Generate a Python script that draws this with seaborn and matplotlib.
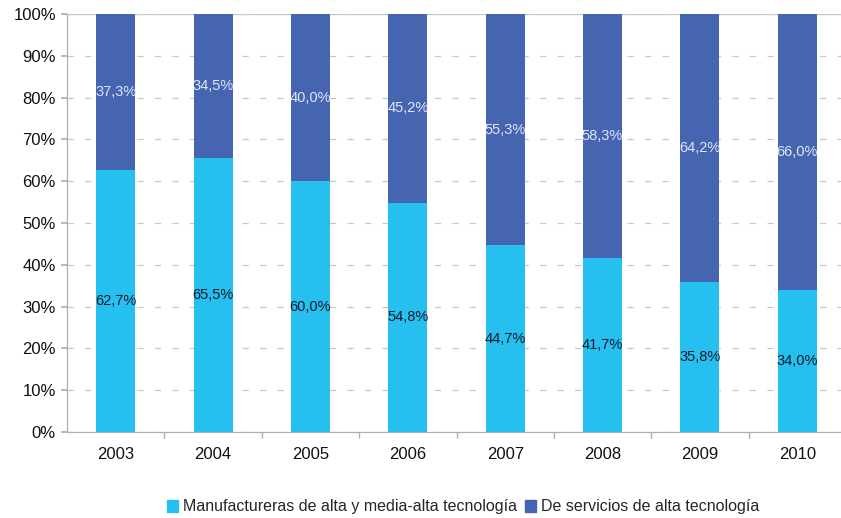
import matplotlib
matplotlib.use("Agg")
import matplotlib.pyplot as plt
import seaborn as sns
import pandas as pd

years = ["2003", "2004", "2005", "2006", "2007", "2008", "2009", "2010"]
manufactureras = [62.7, 65.5, 60.0, 54.8, 44.7, 41.7, 35.8, 34.0]
servicios = [37.3, 34.5, 40.0, 45.2, 55.3, 58.3, 64.2, 66.0]
yticks = [0, 10, 20, 30, 40, 50, 60, 70, 80, 90, 100]
series_names = ["Manufactureras de alta y media-alta tecnología",
                "De servicios de alta tecnología"]

c_manu = "#25bff0"
c_serv = "#4565b1"

sns.set_theme(style="white")
plt.rcParams["font.family"] = ["Liberation Sans", "DejaVu Sans"]

df = pd.DataFrame({"year": years, "manu": manufactureras, "serv": servicios})

fig = plt.figure(figsize=(8.41, 5.18), dpi=100)
ax = fig.add_axes([67 / 841, 86 / 518, 779 / 841, 418 / 518])

sns.barplot(data=df, x="year", y="manu", color=c_manu, width=0.40,
            saturation=1, ax=ax, zorder=3, linewidth=0)
sns.barplot(data=df, x="year", y="serv", color=c_serv, width=0.40,
            saturation=1, ax=ax, bottom=df["manu"].to_numpy(), zorder=3,
            linewidth=0)

bars_manu = ax.containers[0]
bars_serv = ax.containers[1]

def fmt(v):
    return f"{v:.1f}".replace(".", ",") + "%"

ax.bar_label(bars_manu, labels=[fmt(v) for v in manufactureras],
             label_type="center", fontsize=10.5, color="#111b2a", zorder=4)
ax.bar_label(bars_serv, labels=[fmt(v) for v in servicios],
             label_type="center", fontsize=10.5, color="#dfe6f6", zorder=4)

ax.set_xlim(-0.5, len(years) - 0.5)
ax.set_ylim(0, 100)
ax.set_yticks(yticks)
ax.set_yticklabels([f"{t}%" for t in yticks])
ax.set_xlabel("")
ax.set_ylabel("")

ax.yaxis.grid(True, color="#c8c8c8", linestyle=(0, (5, 9)), linewidth=0.9)
ax.set_axisbelow(True)

for side in ["top", "right"]:
    ax.spines[side].set_visible(False)
for side in ["left", "bottom"]:
    ax.spines[side].set_color("#b0b0b0")
    ax.spines[side].set_linewidth(0.9)

ax.axhline(100, color="#c8c8c8", linewidth=0.9, zorder=1)

ax.tick_params(axis="y", which="major", length=4, color="#b0b0b0",
               labelsize=12, pad=4, left=True, labelcolor="#111111")
ax.tick_params(axis="x", which="major", length=0, labelsize=12, pad=11,
               labelcolor="#111111")
ax.set_xticks([i + 0.5 for i in range(len(years) - 1)], minor=True)
ax.tick_params(axis="x", which="minor", length=4, color="#b0b0b0", bottom=True)

handles = [plt.Rectangle((0, 0), 1, 1, color=c_manu),
           plt.Rectangle((0, 0), 1, 1, color=c_serv)]
fig.legend(handles, series_names, loc="center", bbox_to_anchor=(463 / 841, 1 - 507 / 518),
           ncol=2, frameon=False, fontsize=11.5, handlelength=0.7, handleheight=0.7,
           handletextpad=0.3, columnspacing=0.5)

fig.savefig("out.png", dpi=100)
